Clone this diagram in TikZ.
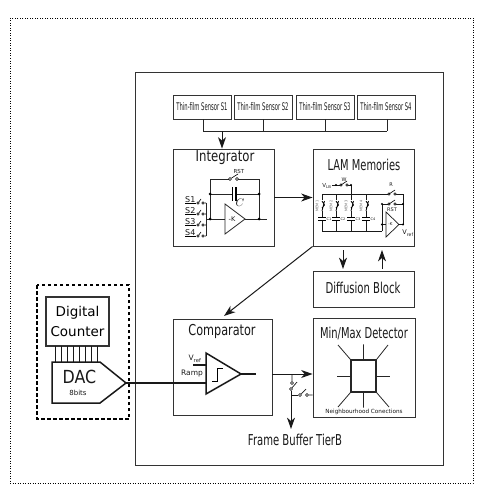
\documentclass[tikz,border=0pt]{standalone}
\usepackage{fontspec}
\setmainfont{DejaVu Sans}
\usepackage{tikz}
\usetikzlibrary{arrows.meta,positioning,calc}
\tikzset{
  vbox/.style={draw=black!80,line width=0.9pt,inner sep=0pt},
  varr/.style={-{Stealth[length=4mm,width=2.8mm,inset=1.2mm]},line width=1pt,draw=black!90},
  vline/.style={line width=0.8pt,draw=black!85},
  vwire/.style={line width=0.7pt,draw=black!90},
  vblade/.style={line width=0.6pt,draw=black},
  vthick/.style={line width=1.5pt,draw=black!90},
  vdot/.style={circle,fill=black,inner sep=0pt,minimum size=3pt},
  vpin/.style={circle,draw=black,fill=white,line width=0.6pt,inner sep=0pt,minimum size=3pt},
  vlabel/.style={inner sep=0pt,text=black!90},
  vname/.style={vlabel,font=\fontsize{15}{15}\selectfont},
  vsensor/.style={vlabel,font=\fontsize{10.5}{11}\selectfont},
  vtiny/.style={vlabel,font=\fontsize{4}{4}\selectfont}
}
\begin{document}
\begin{tikzpicture}[x=1pt,y=-1pt]
  \useasboundingbox (0,0) rectangle (483,503);
  % frames
  \draw[line width=0.6pt,dash pattern=on 1pt off 1.5pt] (10,18) rectangle (473,483);
  \draw[vbox] (135,72) rectangle (443,465);
  \draw[line width=1.1pt,dash pattern=on 3.5pt off 2.5pt] (37,285) rectangle (129,419);
  % sensors
  \foreach \n/\xa in {1/173,2/234,3/296,4/357}{
    \draw[vbox] (\xa,95) rectangle ++(58,24);
    \node[vsensor,xscale=0.5] (s\n) at ($(\xa,107)+(29,0)$) {Thin-film Sensor S\n};
  }
  \coordinate (busl) at (203,131);
  \coordinate (busr) at (387,131);
  \draw[vline] (busl) -- (busr);
  \foreach \xa in {203,263,325,387}{\draw[vline] (\xa,119) -- (\xa,131);}
  % main blocks
  \node[vbox,minimum width=101pt,minimum height=97pt] (integ) at (223.5,197.5) {};
  \node[vbox,minimum width=101pt,minimum height=97pt] (lam) at (363.5,197.5) {};
  \node[vbox,minimum width=101pt,minimum height=36pt] (diff) at (363.5,289) {};
  \node[vbox,minimum width=99pt,minimum height=96pt] (comp) at (222.5,367) {};
  \node[vbox,minimum width=102pt,minimum height=99pt] (minmax) at (364,367.5) {};
  \node[vname,xscale=0.78] at (225,158) {Integrator};
  \node[vname,xscale=0.66] at (364,165) {LAM Memories};
  \node[vname,xscale=0.67] at (363,288) {Diffusion Block};
  \node[vname,xscale=0.75] at (222,331) {Comparator};
  \node[vname,xscale=0.66] at (364,333) {Min/Max Detector};
  % links between blocks
  \draw[varr] (222,131) -- (222,0 |- integ.north);
  \draw[varr] (integ.east) -- (lam.west);
  \draw[varr] (343,250) -- (343,269);
  \draw[varr] (382,269) -- (382,250);
  \draw[varr] (lam.south west) -- (224,316);
  % integrator inside
  \draw[vline] (210,219) |- (230,179) (237,179) -| (259,219);
  \draw[vline] (210,194) -- (232.5,194) (236,194) -- (259,194);
  \draw[line width=1.3pt] (232.5,187) -- (232.5,201) (236,187) -- (236,201);
  \node[vlabel,font=\fontsize{11}{11}\selectfont] at (240,203) {$C$};
  \node[vpin] (rsta) at (230,179) {};
  \node[vpin] (rstb) at (237,179) {};
  \draw[vblade] (rsta) -- (238,174);
  \node[vtiny,font=\fontsize{5.5}{5.5}\selectfont] at (239,171.5) {RST};
  \draw[vline] (225,204) -- (225,234) -- (245,219) -- cycle;
  \node[vlabel,font=\fontsize{6.5}{6.5}\selectfont] at (232,219) {-K};
  \draw[vline] (206,219) -- (225,219) (245,219) -- (267,219);
  \draw[vline] (206,203) -- (206,236);
  \foreach \n/\ya in {1/203,2/214,3/225,4/236}{
    \node[vpin,minimum size=2.5pt] (sa\n) at (198,\ya) {};
    \node[vpin,minimum size=2.5pt] (sb\n) at (203,\ya) {};
    \draw[vblade] (sa\n) -- (201,\ya-4) (sb\n) -- (206,\ya);
    \draw[vblade] (185,\ya) -- (sa\n);
    \node[vlabel,font=\fontsize{8}{8}\selectfont,anchor=south west] at (185,\ya-0.5) {S\n};
  }
  \foreach \xa/\ya in {210/194,259/194,210/219,259/219}{\node[vdot] at (\xa,\ya) {};}
  % memories inside
  \node[vlabel,font=\fontsize{5.5}{5.5}\selectfont] at (327,186) {V$_{\mathrm{LB}}$};
  \draw[vwire] (332,185) -- (341,185) (347,185) -- (351,185) -- (351,194);
  \node[vtiny,font=\fontsize{5}{5}\selectfont] at (344,179.5) {W};
  \node[vpin,minimum size=2.5pt] at (341,185) {};
  \node[vpin,minimum size=2.5pt] at (347,185) {};
  \draw[vblade] (341,185) -- (347,181);
  \draw[vwire] (322,231) -- (322,194) -- (403,194) -- (403,224) (382,231) -- (322,231);
  \draw[vwire] (382,231) -- (382,204) -- (403,204);
  \foreach \n/\xa in {1/322,2/336,3/351,4/366}{
    \draw[vwire] (\xa,194) -- (\xa,231);
    \fill[white] (\xa-2,200) rectangle (\xa+2,211);
    \fill[white] (\xa-4,217.5) rectangle (\xa+4,220.5);
    \draw[vblade,line width=0.8pt] (\xa,201) -- (\xa+2.5,205) -- (\xa,208) (\xa+2.5,201) -- (\xa,211);
    \draw[line width=1.2pt] (\xa-4,217.5) -- (\xa+4,217.5) (\xa-4,220.5) -- (\xa+4,220.5);
    \node[vlabel,font=\fontsize{3.5}{3.5}\selectfont,rotate=90,text=black!60] at (\xa-5,206) {MEM\n};
    \node[vlabel,font=\fontsize{3.5}{3.5}\selectfont] at (\xa+7,219) {C\n};
  }
  \foreach \ya in {194,204}{
    \fill[white] (389,\ya-1) rectangle (395,\ya+1);
    \node[vpin,minimum size=2.5pt] at (389,\ya) {};
    \node[vpin,minimum size=2.5pt] at (395,\ya) {};
    \draw[vblade] (389,\ya) -- (395,\ya-4);
  }
  \node[vtiny,font=\fontsize{5}{5}\selectfont] at (391,184.5) {R};
  \node[vtiny,font=\fontsize{5}{5}\selectfont] at (392,209.5) {RST};
  \draw[vwire,fill=white] (386,212) -- (386,237) -- (399,224.5) -- cycle;
  \node[vtiny] at (390.5,224.5) {-K};
  \draw[vwire] (382,224.5) -- (386,224.5) (399,224.5) -- (403,224.5);
  \foreach \xa/\ya in {336/185,351/185,382/204,403/204,382/224.5,403/224.5}{\node[vdot,minimum size=2.2pt] at (\xa,\ya) {};}
  \node[vlabel,font=\fontsize{6.5}{6.5}\selectfont] at (408,233) {V$_{\mathrm{ref}}$};
  % counter and dac
  \node[vbox,line width=1.1pt,minimum width=63pt,minimum height=49pt,align=center,font=\fontsize{13.5}{20}\selectfont] (count) at (77.5,321.5) {Digital\\Counter};
  \foreach \xa in {55,61.5,67.5,73,79,85.5,91.5,97.5}{\draw[vwire] (\xa,346) -- (\xa,362);}
  \draw[vthick] (52,362) -- (100,362) -- (126,383) -- (100,403) -- (52,403) -- cycle;
  \node[vlabel,font=\fontsize{18}{18}\selectfont,xscale=0.88] at (79.5,376.5) {DAC};
  \node[vlabel,font=\fontsize{7}{7}\selectfont] at (78,393) {8bits};
  \coordinate (dacout) at (126,383);
  % comparator inside
  \draw[vthick] (206,353) -- (206,394) -- (241,374) -- cycle;
  \draw[vthick] (dacout) -- (206,383);
  \draw[vthick] (241,374) -- (256,374);
  \draw[vthick] (193,365) -- (206,365);
  \draw[line width=0.9pt] (212,381) -- (217,381) -- (217,368) -- (223,368);
  \node[vlabel,font=\fontsize{7.5}{7.5}\selectfont] at (195,359) {V$_{\mathrm{ref}}$};
  \node[vlabel,font=\fontsize{7.5}{7.5}\selectfont] at (192,374) {Ramp};
  % detector inside
  \node[draw=black!85,line width=1.3pt,minimum width=25pt,minimum height=32pt,inner sep=0pt] (chip) at (363.5,376) {};
  \draw[vline] (chip.north west) -- (338,345) (chip.north) -- ++(0,-15) (chip.north east) -- (388,345);
  \draw[vline] (chip.west) -- ++(-13,0) (chip.east) -- ++(13,0);
  \draw[vline] (chip.south west) -- (338,407) (chip.south) -- ++(0,15) (chip.south east) -- (389,407);
  \node[vlabel,font=\fontsize{5.7}{5.7}\selectfont] at (364,411.5) {Neighbourhood Conections};
  % output switches
  \draw[varr] (comp.east|-0,374) -- (minmax.west|-0,374);
  \node[vpin] (swa) at (292,383) {};
  \node[vpin] (swb) at (291,389) {};
  \node[vpin] (swc) at (300,395) {};
  \node[vpin] (swd) at (307,395) {};
  \draw[vwire] (292,374) -- (swa) (swb) -- (297,382) (swc) -- (306,389) (swd) -- (minmax.west|-swd);
  \draw[vwire] (291,395) -- (swc);
  \node[vname,xscale=0.67] (frame) at (295,440) {Frame Buffer TierB};
  \draw[varr] (swb) -- (291,429);
\end{tikzpicture}
\end{document}
